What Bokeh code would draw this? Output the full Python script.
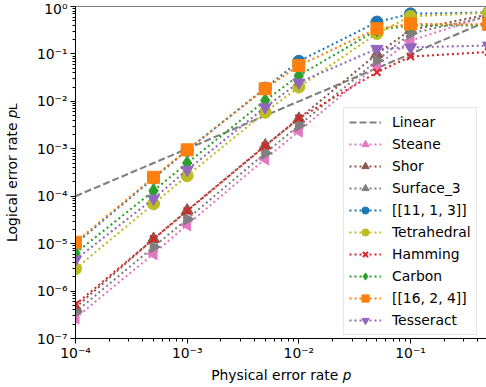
import math
from bokeh.plotting import figure
from bokeh.models import (FixedTicker, Legend, LegendItem, Span, Range1d)
from bokeh.embed import file_html
from bokeh.resources import INLINE

# ---------------- data ----------------
p = [1e-4, 5e-4, 1e-3, 5e-3, 1e-2, 5e-2, 1e-1, 5e-1]
linear = [1e-4, 5e-4, 1e-3, 5e-3, 1e-2, 5e-2, 1e-1, 5e-1]

steane = [2.7e-7, 6.1e-6, 2.5e-5, 6.1e-4, 2.36e-3, 0.057, 0.19, 0.65]
shor = [4.5e-7, 1.26e-5, 5.0e-5, 1.17e-3, 4.3e-3, 0.10, 0.32, 0.68]
surface_3 = [3.6e-7, 8.5e-6, 3.3e-5, 8.1e-4, 3.1e-3, 0.073, 0.27, 0.62]
code_11_1_3 = [1.0e-5, 2.4e-4, 9.3e-4, 1.9e-2, 7.0e-2, 0.47, 0.70, 0.75]
tetrahedral = [2.95e-6, 6.9e-5, 2.7e-4, 5.9e-3, 2.0e-2, 0.27, 0.62, 0.74]
hamming = [5.2e-7, 1.25e-5, 4.9e-5, 1.15e-3, 4.4e-3, 0.041, 0.088, 0.11]
carbon = [6.3e-6, 1.3e-4, 5.0e-4, 1.04e-2, 3.5e-2, 0.32, 0.40, 0.40]
code_16_2_4 = [1.07e-5, 2.5e-4, 9.5e-4, 1.84e-2, 5.7e-2, 0.34, 0.43, 0.42]
tesseract = [4.6e-6, 8.9e-5, 3.6e-4, 7.5e-3, 2.5e-2, 0.128, 0.138, 0.15]

x_ticks = [1e-4, 1e-3, 1e-2, 1e-1]
x_tick_labels = ["10\u207b\u2074", "10\u207b\u00b3", "10\u207b\u00b2", "10\u207b\u00b9"]
y_ticks = [1e-7, 1e-6, 1e-5, 1e-4, 1e-3, 1e-2, 1e-1, 1e0]
y_tick_labels = ["10\u207b\u2077", "10\u207b\u2076", "10\u207b\u2075", "10\u207b\u2074",
                 "10\u207b\u00b3", "10\u207b\u00b2", "10\u207b\u00b9", "10\u2070"]

series = [
    ("Steane", steane, "#e377c2", "triangle", math.pi / 2),
    ("Shor", shor, "#8c564b", "triangle", 0.0),
    ("Surface_3", surface_3, "#7f7f7f", "triangle", -math.pi / 2),
    ("[[11, 1, 3]]", code_11_1_3, "#1f77b4", "circle", 0.0),
    ("Tetrahedral", tetrahedral, "#bcbd22", "circle", 0.0),
    ("Hamming", hamming, "#d62728", "x", 0.0),
    ("Carbon", carbon, "#2ca02c", "diamond", 0.0),
    ("[[16, 2, 4]]", code_16_2_4, "#ff7f0e", "square", 0.0),
    ("Tesseract", tesseract, "#9467bd", "inverted_triangle", 0.0),
]

FONT = "DejaVu Sans"
FS = "13.9px"

p_fig = figure(width=486, height=387, x_axis_type="log", y_axis_type="log",
               x_range=Range1d(1e-4, 0.479), y_range=Range1d(1e-7, 1.0),
               output_backend="svg", toolbar_location=None,
               min_border_left=75, min_border_right=0, min_border_top=6,
               min_border_bottom=49)
p_fig.outline_line_color = None
p_fig.xgrid.visible = False
p_fig.ygrid.visible = False

def minor(dec_lo, dec_hi, vmax):
    out = []
    for d in range(dec_lo, dec_hi + 1):
        for m in range(2, 10):
            v = m * 10.0 ** d
            if v <= vmax:
                out.append(v)
    return out

p_fig.xaxis.ticker = FixedTicker(ticks=x_ticks, minor_ticks=minor(-4, -1, 0.479))
p_fig.yaxis.ticker = FixedTicker(ticks=y_ticks, minor_ticks=minor(-7, -1, 1.0))
p_fig.xaxis.major_label_overrides = {t: l for t, l in zip(x_ticks, x_tick_labels)}
p_fig.yaxis.major_label_overrides = {t: l for t, l in zip(y_ticks, y_tick_labels)}

for ax in (p_fig.xaxis[0], p_fig.yaxis[0]):
    ax.major_tick_in = 0
    ax.major_tick_out = 5
    ax.minor_tick_in = 0
    ax.minor_tick_out = 3
    ax.axis_line_color = "black"
    ax.major_tick_line_color = "black"
    ax.minor_tick_line_color = "black"
    ax.major_label_text_font = FONT
    ax.major_label_text_font_size = FS
    ax.major_label_text_color = "black"
    ax.axis_label_text_font = FONT
    ax.axis_label_text_font_size = FS
    ax.axis_label_text_font_style = "normal"
    ax.axis_label_text_color = "black"

p_fig.xaxis.major_label_standoff = 1
p_fig.yaxis.major_label_standoff = 3
p_fig.xaxis.axis_label = "Physical error rate \U0001D45D"
p_fig.yaxis.axis_label = "Logical error rate \U0001D45D\u029F"
p_fig.xaxis.axis_label_standoff = 3
p_fig.yaxis.axis_label_standoff = 14
p_fig.yaxis.major_label_orientation = "horizontal"

# top spine
p_fig.add_layout(Span(location=1.0, dimension="width", line_color="black", line_width=1))

items = []
lin = p_fig.line(p, linear, line_color="#7f7f7f", line_width=2.1, line_dash="7 3")
items.append(LegendItem(label="Linear", renderers=[lin]))

for name, vals, col, mk, ang in series:
    ln = p_fig.line(p, vals, line_color=col, line_width=2.1, line_dash="2 3")
    sz = 12
    if mk == "x":
        sc = p_fig.scatter(p, vals, marker="x", size=10, line_color=col, line_width=2)
    else:
        if mk == "diamond":
            sz = 14
        sc = p_fig.scatter(p, vals, marker=mk, size=sz, angle=ang, angle_units="rad",
                           fill_color=col, line_color=col)
    items.append(LegendItem(label=name, renderers=[ln, sc]))

legend = Legend(items=items, location=(268, 3))
legend.label_text_font = FONT
legend.label_text_font_size = FS
legend.label_text_color = "black"
legend.glyph_width = 32
legend.glyph_height = 18
legend.label_height = 18
legend.spacing = 4
legend.padding = 5
legend.label_standoff = 11
legend.border_line_color = "#cccccc"
legend.border_line_width = 1
legend.background_fill_alpha = 0.8
p_fig.add_layout(legend, "center")

open("out.html", "w").write(file_html(p_fig, INLINE))
